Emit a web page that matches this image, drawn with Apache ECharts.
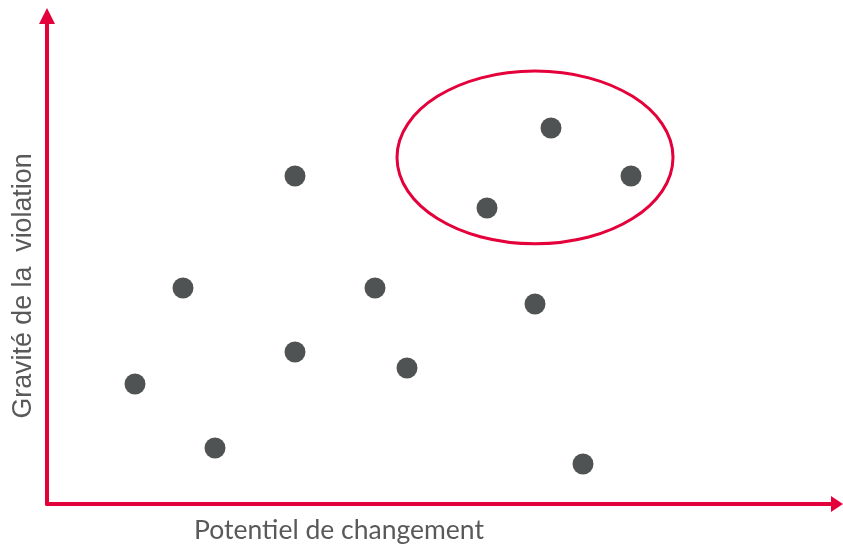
<!DOCTYPE html>
<html>
<head>
<meta charset="utf-8">
<script src="https://cdn.jsdelivr.net/npm/echarts@6/dist/echarts.min.js"></script>
<style>
  html, body { margin: 0; padding: 0; background: #fff; }
  #chart { width: 843px; height: 546px; }
</style>
</head>
<body>
<div id="chart"></div>
<script>
// points: potentiel de changement (x) / gravité de la violation (y)
var xValues = [15.5, 31.5, 36.5, 27.5, 8.5, 20.5, 30.5, 15.5, 5.5, 22.5, 10.5, 33.5]
var yValues = [20.5, 23.5, 20.5, 18.5, 13.5, 13.5, 12.5, 9.5, 7.5, 8.5, 3.5, 2.5]
// highlighted group: centre x, centre y, radius x, radius y (axis units)
var ellipse = [30.5, 21.66, 8.625, 5.4]
var xName = 'Potentiel de changement'
var yName = 'Gravité de la  violation'

var red = '#e4003a'
var grey = '#595959'

var points = xValues.map(function (x, i) { return [x, yValues[i]] })

var chart = echarts.init(document.getElementById('chart'))
chart.setOption({
  animation: false,
  grid: { left: 47, right: 6, top: 16, bottom: 42 },
  xAxis: {
    type: 'value',
    min: 0,
    max: 49.375,
    axisLine: {
      show: true,
      symbol: ['none', 'triangle'],
      symbolSize: [16, 12],
      lineStyle: { color: red, width: 4 }
    },
    axisTick: { show: false },
    axisLabel: { show: false },
    splitLine: { show: false }
  },
  yAxis: {
    type: 'value',
    min: 0,
    max: 30.5,
    axisLine: {
      show: true,
      symbol: ['none', 'triangle'],
      symbolSize: [16, 16],
      lineStyle: { color: red, width: 4 }
    },
    axisTick: { show: false },
    axisLabel: { show: false },
    splitLine: { show: false }
  },
  graphic: [
    {
      type: 'text',
      x: 339,
      y: 530,
      style: {
        text: xName,
        fontSize: 26.5,
        fontFamily: 'Lato',
        fill: grey,
        align: 'center',
        verticalAlign: 'middle'
      }
    },
    {
      type: 'text',
      x: 24,
      y: 286,
      rotation: Math.PI / 2,
      style: {
        text: yName,
        fontSize: 26.8,
        fontFamily: 'Liberation Sans',
        fill: grey,
        align: 'center',
        verticalAlign: 'middle'
      }
    }
  ],
  series: [
    {
      type: 'custom',
      silent: true,
      data: [ellipse],
      renderItem: function (params, api) {
        var c = api.coord([api.value(0), api.value(1)])
        var s = api.size([api.value(2), api.value(3)])
        return {
          type: 'ellipse',
          shape: { cx: c[0], cy: c[1], rx: s[0], ry: s[1] },
          style: { fill: 'none', stroke: red, lineWidth: 3 }
        }
      }
    },
    {
      type: 'scatter',
      data: points,
      symbolSize: 21,
      itemStyle: { color: '#505354', opacity: 1 }
    }
  ]
})
</script>
</body>
</html>
